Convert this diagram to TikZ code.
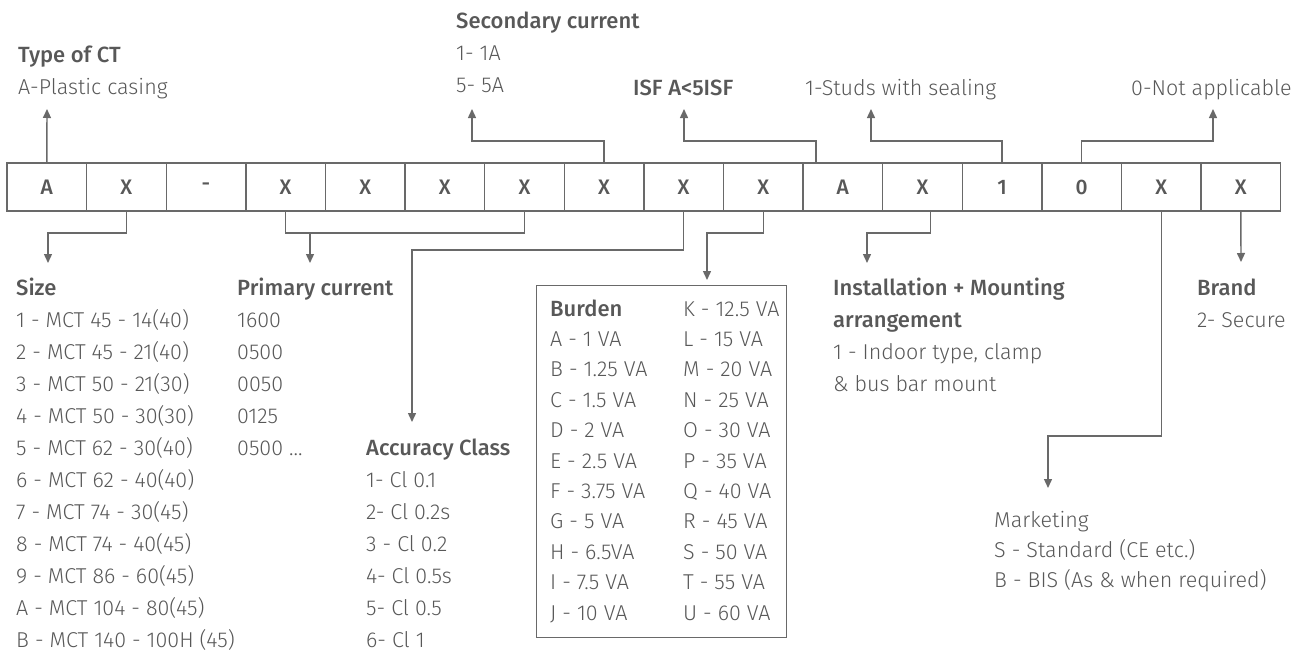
\documentclass[tikz,border=0pt]{standalone}
\usepackage{fontspec}
\setmainfont{Fira Sans Light}[BoldFont={Fira Sans Medium}]
\usetikzlibrary{arrows.meta}
\definecolor{txtgray}{RGB}{88,88,88}
\definecolor{linegray}{RGB}{105,105,105}
\tikzset{
	cell/.style={draw=linegray, line width=1.4pt, minimum width=79.6pt, minimum height=48pt, inner sep=0pt, text=txtgray, font=\bfseries\fontsize{21}{21}\selectfont},
	txt/.style={anchor=base west, inner sep=0pt, text=txtgray, font=\fontsize{21.5}{21.5}\selectfont},
	head/.style={txt, font=\bfseries\fontsize{22}{22}\selectfont},
	line/.style={draw=linegray, line width=1.4pt},
	conn/.style={line, -{Triangle[length=9pt,width=8pt]}},
}
\begin{document}
\begin{tikzpicture}[x=1pt, y=-1pt]
	\useasboundingbox (0,0) rectangle (1299,653);

	% code cells
	\foreach \t [count=\i] in {A,X,-,X,X,X,X,X,X,X,A,X,1,0,X,X}
		\node[cell] (c\i) at ({7+79.6*(\i-0.5)},187) {\t};

	% upper labels
	\node[head] (type) at (18,62) {Type of CT};
	\node[txt] (typeA) at (18,94) {A-Plastic casing};
	\node[head] (sec) at (456,28) {Secondary current};
	\node[txt] (sec1) at (456,60) {1- 1A};
	\node[txt] (sec5) at (456,92) {5- 5A};
	\node[head] (isf) at (633,95) {ISF A<5ISF};
	\node[txt] (stud) at (805,95) {1-Studs with sealing};
	\node[txt] (na) at (1131,95) {0-Not applicable};

	\coordinate (tType) at (47,109);
	\coordinate (tSec) at (472,109);
	\coordinate (tIsf) at (684,109);
	\coordinate (tStud) at (871,109);
	\coordinate (tNa) at (1213,109);

	\draw[conn] (c1.north) -- (tType);
	\draw[conn] (c8.north) |- (472,141) -- (tSec);
	\draw[conn] ([xshift=-27pt]c11.north) |- (684,141) -- (tIsf);
	\draw[conn] (c13.north) |- (871,141) -- (tStud);
	\draw[conn] (c14.north) |- (1213,141) -- (tNa);

	% size
	\node[head] (size) at (16,295) {Size};
	\foreach \s [count=\k] in {1 - MCT 45 - 14(40), 2 - MCT 45 - 21(40), 3 - MCT 50 - 21(30), 4 - MCT 50 - 30(30), 5 - MCT 62 - 30(40), 6 - MCT 62 - 40(40), 7 - MCT 74 - 30(45), 8 - MCT 74 - 40(45), 9 - MCT 86 - 60(45), A - MCT 104 - 80(45), B - MCT 140 - 100H (45)}
		\node[txt] (size\k) at (16,{295+32*\k}) {\s};

	% primary current
	\node[head] (pri) at (237,295) {Primary current};
	\foreach \s [count=\k] in {1600, 0500, 0050, 0125}
		\node[txt] (pri\k) at (237,{295+32*\k}) {\s};
	\node[txt] (pri5) at (237,455) {0500 ...};

	% accuracy class
	\node[head] (acc) at (366,455) {Accuracy Class};
	\foreach \s [count=\k] in {1- Cl 0.1, 2- Cl 0.2s, 3 - Cl 0.2, 4- Cl 0.5s, 5- Cl 0.5, 6- Cl 1}
		\node[txt] (acc\k) at (366,{455+32*\k}) {\s};

	% burden
	\node[line, minimum width=250pt, minimum height=352pt, anchor=north west] (burbox) at (536,285) {};
	\node[head] (bur) at (550,316) {Burden};
	\foreach \s [count=\k] in {A - 1 VA, B - 1.25 VA, C - 1.5 VA, D - 2 VA, E - 2.5 VA, F - 3.75 VA, G - 5 VA, H - 6.5VA, I - 7.5 VA, J - 10 VA}
		\node[txt] (burA\k) at (550,{316+30.4*\k}) {\s};
	\foreach \s [count=\k] in {K - 12.5 VA, L - 15 VA, M - 20 VA, N - 25 VA, O - 30 VA, P - 35 VA, Q - 40 VA, R - 45 VA, S - 50 VA, T - 55 VA, U - 60 VA}
		\node[txt] (burB\k) at (683,{316+30.4*(\k-1)}) {\s};

	% installation
	\node[head] (ins) at (833,295) {Installation + Mounting};
	\node[head] (ins2) at (833,327) {arrangement};
	\node[txt] (ins3) at (833,359) {1 - Indoor type, clamp};
	\node[txt] (ins4) at (833,391) {\& bus bar mount};

	% brand
	\node[head] (brand) at (1197,295) {Brand};
	\node[txt] (brand2) at (1197,327) {2- Secure};

	% marketing
	\node[txt] (mkt) at (994,527) {Marketing};
	\node[txt] (mkt2) at (994,557) {S - Standard (CE etc.)};
	\node[txt] (mkt3) at (994,587) {B - BIS (As \& when required)};

	\coordinate (tSize) at (48,263);
	\coordinate (tPri) at (310,263);
	\coordinate (tAcc) at (412,422);
	\coordinate (tBur) at (707,280);
	\coordinate (tIns) at (867,263);
	\coordinate (tMkt) at (1048,488);
	\coordinate (tBrand) at (1241,262);

	\draw[conn] (c2.south) |- (48,233) -- (tSize);
	\draw[line] (c4.south) |- (c7.south |- 0,233) -- (c7.south);
	\draw[conn] (310,233) -- (tPri);
	\draw[conn] (c9.south) |- (412,250) -- (tAcc);
	\draw[conn] (c10.south) |- (707,233) -- (tBur);
	\draw[conn] ([xshift=8pt]c12.south) |- (867,233) -- (tIns);
	\draw[conn] (c15.south) |- (1048,436) -- (tMkt);
	\draw[conn] (c16.south) -- (tBrand);
\end{tikzpicture}
\end{document}
